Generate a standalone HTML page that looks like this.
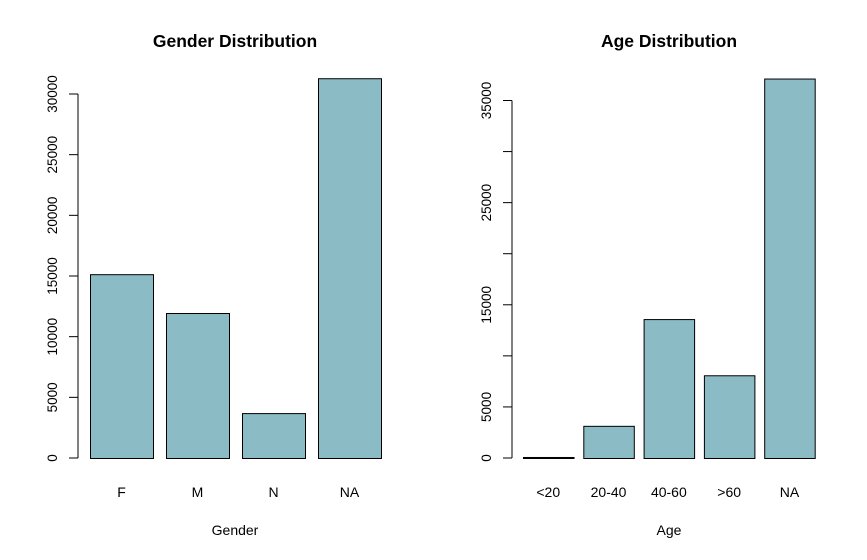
<!DOCTYPE html>
<html><head><meta charset="utf-8">
<style>body{margin:0;background:#fff}svg{display:block;font-family:"Liberation Sans",Arial,sans-serif}</style>
</head><body>
<svg id="c" width="867" height="560"></svg>
<script>
const genderCats = ["F","M","N","NA"];
const genderVals = [15150, 11950, 3700, 31300];
const genderTicks = [0,5000,10000,15000,20000,25000,30000];
const genderTickLabels = ["0","5000","10000","15000","20000","25000","30000"];
const ageCats = ["<20","20-40","40-60",">60","NA"];
const ageVals = [100, 3150, 13600, 8100, 37150];
const ageTicks = [0,5000,10000,15000,20000,25000,30000,35000];
const ageTickLabels = ["0","5000","","15000","","25000","","35000"];

const svg = document.getElementById('c');
const NS = "http://www.w3.org/2000/svg";
function mk(tag, attrs, parent){const e=document.createElementNS(NS,tag);for(const k in attrs)e.setAttribute(k,attrs[k]);(parent||svg).appendChild(e);return e;}

function panel(cfg){
  const g = mk('g',{});
  
  
  const y = v => cfg.y0 - v/cfg.ymax*(cfg.y0-cfg.ytop);
  const ax = mk('line',{x1:cfg.axisX,x2:cfg.axisX,y1:y(cfg.ticks[0]),y2:y(cfg.ticks[cfg.ticks.length-1]),stroke:'#000'},g);
  
  
  cfg.ticks.forEach((t,i)=>{
    const tk = mk('line',{x1:cfg.axisX-9,x2:cfg.axisX,y1:y(t),y2:y(t),stroke:'#000'},g);
    
    
    if(cfg.tickLabels[i]){
      const lx = cfg.axisX-21;
      const tx = mk('text',{x:lx,y:y(t),'font-size':13.5,'text-anchor':'middle',transform:`rotate(-90 ${lx} ${y(t)})`},g);
      tx.textContent = cfg.tickLabels[i];
      
      
    }
  });
  cfg.cats.forEach((c,i)=>{
    const x = cfg.bx0 + i*(cfg.bw+cfg.gap);
    const r = mk('rect',{x:x+0.5,y:y(cfg.vals[i])+0.5,width:cfg.bw,height:cfg.y0-y(cfg.vals[i]),fill:'#8bbbc5',stroke:'#000'},g);
    
    
    const t = mk('text',{x:x+cfg.bw/2,y:497,'font-size':14,'text-anchor':'middle'},g);
    t.textContent = c;
    
    
  });
  const ti = mk('text',{x:cfg.cx,y:47,'font-size':17.5,'font-weight':'bold','text-anchor':'middle'},g);
  ti.textContent = cfg.title;
  
  
  const xl = mk('text',{x:cfg.cx,y:535,'font-size':14,'text-anchor':'middle'},g);
  xl.textContent = cfg.xlabel;
  
  
}
panel({name:'gender-panel',cats:genderCats,vals:genderVals,ticks:genderTicks,tickLabels:genderTickLabels,ymax:30000,y0:458,ytop:94,axisX:78,bx0:90,bw:63,gap:13,cx:235,title:'Gender Distribution',xlabel:'Gender'});
panel({name:'age-panel',cats:ageCats,vals:ageVals,ticks:ageTicks,tickLabels:ageTickLabels,ymax:35000,y0:458,ytop:100.5,axisX:512,bx0:523,bw:50.5,gap:9.8,cx:669,title:'Age Distribution',xlabel:'Age'});
</script>
</body></html>
